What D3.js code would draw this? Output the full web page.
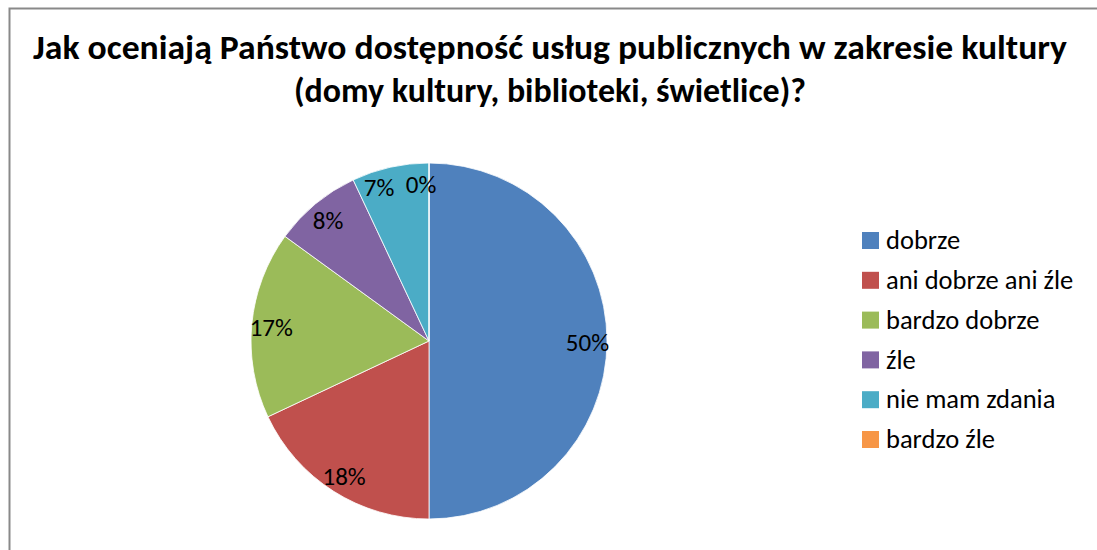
<!DOCTYPE html>
<meta charset="utf-8">
<style>
  body { margin: 0; background: #fff; }
  svg text { font-family: Carlito, "Open Sans", "Noto Sans", sans-serif; fill: #000; }
</style>
<svg width="1097" height="550"></svg>
<script src="https://cdn.jsdelivr.net/npm/d3@7"></script>
<script>

var categories = ["dobrze", "ani dobrze ani źle", "bardzo dobrze", "źle", "nie mam zdania", "bardzo źle"],
    values = [50, 18, 17, 8, 7, 0],
    colors = ["#4F81BD", "#C0504D", "#9BBB59", "#8064A2", "#4BACC6", "#F79646"],
    titleLines = ["Jak oceniają Państwo dostępność usług publicznych w zakresie kultury",
                  "(domy kultury, biblioteki, świetlice)?"];

var svg = d3.select("svg"),
    width = +svg.attr("width"),
    height = +svg.attr("height");

// chart frame (only top + left edge visible)
svg.append("path")
    .attr("d", "M9.5," + height + "V8.5H" + width)
    .attr("fill", "none")
    .attr("stroke", "#898989")
    .attr("stroke-width", 2);

var title = svg.append("g").attr("font-weight", "bold").attr("font-size", 35);
title.selectAll("text")
  .data(titleLines)
  .enter().append("text")
    .attr("x", 550)
    .attr("y", function(d, i) { return 59 + i * 43; })
    .attr("text-anchor", "middle")
    .attr("textLength", function(d, i) { return i ? 512 : 1034; })
    .attr("lengthAdjust", "spacingAndGlyphs")
    .text(function(d) { return d; });

var cx = 429, cy = 341, radius = 178;

var color = d3.scaleOrdinal().domain(categories).range(colors);

var pie = d3.pie().sort(null).value(function(d) { return d.value; });
var data = categories.map(function(c, i) { return {name: c, value: values[i]}; });
var arcs = pie(data);

var arc = d3.arc().innerRadius(0).outerRadius(radius);
var labelArc = d3.arc().innerRadius(radius * 0.89).outerRadius(radius * 0.89);

var g = svg.append("g").attr("transform", "translate(" + cx + "," + cy + ")");

g.selectAll("path")
  .data(arcs)
  .enter().append("path")
    .attr("d", arc)
    .attr("fill", function(d) { return color(d.data.name); })
    .attr("stroke", "#fff")
    .attr("stroke-width", 0.8);

// label positions, pushed apart when they collide
var labels = arcs.map(function(d) {
  var c = labelArc.centroid(d);
  return {x: c[0], y: c[1], text: d3.format(".0%")(d.data.value / 100)};
});
for (var i = labels.length - 1; i > 0; i--) {
  var a = labels[i - 1], b = labels[i];
  if (Math.abs(a.y - b.y) < 20 && b.x - a.x < 42) a.x = b.x - 42;
}
labels[labels.length - 1].x -= 8;
labels[labels.length - 2].x -= 8;

g.selectAll("text")
  .data(labels)
  .enter().append("text")
    .attr("x", function(d) { return d.x; })
    .attr("y", function(d) { return d.y; })
    .attr("dy", "0.4em")
    .attr("text-anchor", "middle")
    .attr("font-size", 25)
    .text(function(d) { return d.text; });

var y = d3.scalePoint().domain(categories).range([240, 439]);

var legend = svg.append("g").selectAll("g")
  .data(categories)
  .enter().append("g")
    .attr("transform", function(d) { return "translate(862," + y(d) + ")"; });

legend.append("rect")
    .attr("x", 0).attr("y", -8)
    .attr("width", 17).attr("height", 17)
    .attr("fill", color);

legend.append("text")
    .attr("x", 24)
    .attr("dy", "0.35em")
    .attr("font-size", 26.5)
    .text(function(d) { return d; });

</script>
